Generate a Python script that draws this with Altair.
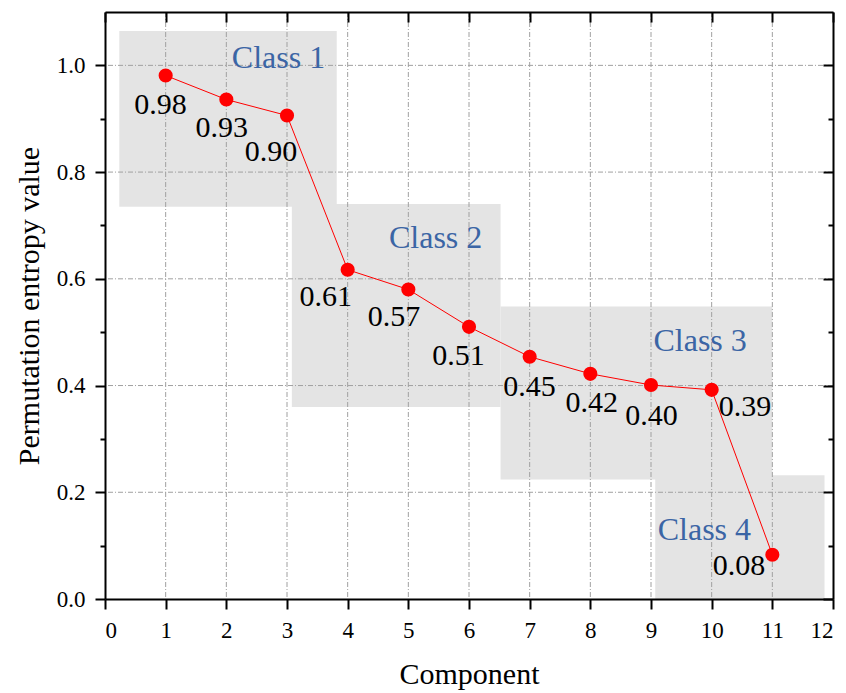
import altair as alt
import pandas as pd

# ---------------- data ----------------
components = list(range(1, 12))
entropy = [0.981, 0.936, 0.906, 0.617, 0.580, 0.510, 0.454, 0.422, 0.401, 0.392, 0.083]
value_labels = ["0.98", "0.93", "0.90", "0.61", "0.57", "0.51", "0.45", "0.42", "0.40", "0.39", "0.08"]
label_x = [0.915, 1.923, 2.736, 3.638, 4.763, 5.827, 6.997, 8.022, 9.007, 10.549, 10.450]
label_y = [0.926, 0.883, 0.838, 0.565, 0.528, 0.456, 0.398, 0.367, 0.343, 0.360, 0.062]

class_names = ["Class 1", "Class 2", "Class 3", "Class 4"]
class_x0 = [0.236, 3.08, 6.52, 9.07]
class_x1 = [3.82, 6.52, 11.0, 11.86]
class_y0 = [0.735, 0.360, 0.224, 0.0]
class_y1 = [1.0645, 0.740, 0.548, 0.232]
class_label_x = [2.86, 5.45, 9.81, 9.88]
class_label_y = [1.013, 0.677, 0.483, 0.129]

x_ticks = list(range(0, 13))
y_major = [0.0, 0.2, 0.4, 0.6, 0.8, 1.0]
y_minor = [0.1, 0.3, 0.5, 0.7, 0.9]
x_grid = list(range(1, 12))
y_grid = [0.2, 0.4, 0.6, 0.8, 1.0]

# ---------------- tables ----------------
pts = pd.DataFrame({"c": components, "v": entropy, "lab": value_labels,
                    "lx": label_x, "ly": label_y})
boxes = pd.DataFrame({"name": class_names, "x0": class_x0, "x1": class_x1,
                      "y0": class_y0, "y1": class_y1,
                      "tx": class_label_x, "ty": class_label_y})
xg = pd.DataFrame({"g": x_grid})
yg = pd.DataFrame({"g": y_grid})

FONT = "Times New Roman"
xs = alt.Scale(domain=[0, 12], nice=False, zero=False)
ys = alt.Scale(domain=[0, 1.1], nice=False, zero=False)

common_axis = dict(domainColor="black", domainWidth=2, tickColor="black", tickWidth=2,
                   zindex=1, grid=False, labelFont=FONT, labelFontSize=23,
                   labelColor="black", titleFont=FONT, titleFontSize=30,
                   titleColor="black", titleFontWeight="normal")

ax_bottom = alt.Axis(orient="bottom", values=x_ticks, tickSize=10, labelPadding=10,
                     title="Component", titlePadding=17, format="d", **common_axis)
ax_left = alt.Axis(orient="left", values=y_major, tickSize=10, labelPadding=10,
                   title="Permutation entropy value", titlePadding=12, format=".1f",
                   **common_axis)
ax_top = alt.Axis(orient="top", values=x_ticks, tickSize={"expr": "-10"}, labels=False,
                  title=None, **common_axis)
ax_right = alt.Axis(orient="right", values=y_major, tickSize={"expr": "-10"}, labels=False,
                    title=None, **common_axis)
ax_left_minor = alt.Axis(orient="left", values=y_minor, tickSize=5, labels=False,
                         domain=False, title=None, **common_axis)
ax_right_minor = alt.Axis(orient="right", values=y_minor, tickSize={"expr": "-5"},
                          labels=False, domain=False, title=None, **common_axis)

rects = alt.Chart(boxes).mark_rect(color="#e4e4e4").encode(
    x=alt.X("x0:Q", scale=xs, axis=ax_bottom),
    x2="x1:Q",
    y=alt.Y("y0:Q", scale=ys, axis=ax_left),
    y2="y1:Q",
)

vgrid = alt.Chart(xg).mark_rule(color="#a0a0a0", strokeWidth=1, strokeDash=[5, 2, 1, 2]).encode(
    x=alt.X("g:Q", scale=xs, axis=ax_top)
)
hgrid = alt.Chart(yg).mark_rule(color="#a0a0a0", strokeWidth=1, strokeDash=[5, 2, 1, 2]).encode(
    y=alt.Y("g:Q", scale=ys, axis=ax_right)
)

line = alt.Chart(pts).mark_line(color="#ff0000", strokeWidth=1).encode(
    x=alt.X("c:Q", scale=xs, axis=None),
    y=alt.Y("v:Q", scale=ys, axis=ax_left_minor),
)
points = alt.Chart(pts).mark_circle(size=200, color="#ff0000", opacity=1).encode(
    x=alt.X("c:Q", scale=xs, axis=None),
    y=alt.Y("v:Q", scale=ys, axis=ax_right_minor),
)
vlabels = alt.Chart(pts).mark_text(font=FONT, fontSize=30, color="black",
                                   align="center", baseline="middle").encode(
    x=alt.X("lx:Q", scale=xs, axis=None),
    y=alt.Y("ly:Q", scale=ys, axis=None),
    text="lab:N",
)
clabels = alt.Chart(boxes).mark_text(font=FONT, fontSize=32, color="#3b65a5",
                                     align="center", baseline="middle").encode(
    x=alt.X("tx:Q", scale=xs, axis=None),
    y=alt.Y("ty:Q", scale=ys, axis=None),
    text="name:N",
)

chart = alt.layer(rects, vgrid, hgrid, line, points, vlabels, clabels).resolve_axis(
    x="independent", y="independent"
).properties(
    width=728, height=587,
    autosize=alt.AutoSizeParams(type="none"),
    padding={"left": 105, "top": 12, "right": 13, "bottom": 94},
    background="white",
).configure_view(stroke=None)

chart.save("out.html", embed_options={"renderer": "svg", "actions": False})
